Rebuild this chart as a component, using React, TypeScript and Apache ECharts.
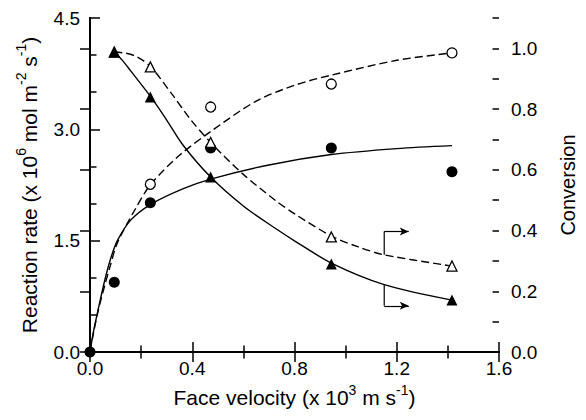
import React, { useEffect, useRef } from "react";
import * as echarts from "echarts";

// Measured points (face velocity, x 10^3 m/s)
const velocity = [0, 0.095, 0.236, 0.472, 0.944, 1.416];
const rateFilled = [0, 0.94, 2.01, 2.75, 2.75, 2.43];
const rateOpenX = [0.236, 0.472, 0.944, 1.416];
const rateOpen = [2.26, 3.3, 3.61, 4.03];
const convX = [0.095, 0.236, 0.472, 0.944, 1.416];
const convFilled = [0.988, 0.84, 0.576, 0.29, 0.171];
const convOpen = [0.988, 0.939, 0.69, 0.379, 0.283];

// Fitted curves
const rateSolidX = [0, 0.015, 0.035, 0.058, 0.08, 0.107, 0.16, 0.238, 0.365, 0.472, 0.7, 0.944, 1.2, 1.416];
const rateSolidY = [0, 0.3, 0.62, 0.97, 1.25, 1.5, 1.78, 1.99, 2.2, 2.33, 2.52, 2.66, 2.74, 2.78];
const rateDashX = [0, 0.015, 0.035, 0.058, 0.08, 0.107, 0.173, 0.238, 0.35, 0.472, 0.65, 0.806, 0.944, 1.2, 1.416];
const rateDashY = [0, 0.28, 0.6, 0.9, 1.17, 1.47, 1.9, 2.26, 2.65, 2.97, 3.38, 3.6, 3.73, 3.93, 4.03];
const convSolidX = [0.095, 0.125, 0.16, 0.238, 0.3, 0.365, 0.472, 0.601, 0.729, 0.806, 0.944, 1.151, 1.416];
const convSolidY = [0.988, 0.962, 0.925, 0.84, 0.764, 0.68, 0.576, 0.48, 0.405, 0.363, 0.293, 0.222, 0.171];
const convDashX = [0.095, 0.14, 0.184, 0.238, 0.32, 0.395, 0.472, 0.6, 0.729, 0.806, 0.944, 1.05, 1.151, 1.416];
const convDashY = [0.988, 0.984, 0.972, 0.939, 0.85, 0.764, 0.69, 0.585, 0.497, 0.452, 0.382, 0.346, 0.32, 0.283];

// Arrow annotations (pointing to the right axis)
const arrowUpper = [[1.151, 0.32], [1.151, 0.397], [1.247, 0.397]];
const arrowLower = [[1.151, 0.222], [1.151, 0.152], [1.247, 0.152]];

const FONT = "Liberation Sans";
const zip = (xs: number[], ys: number[]) => xs.map((x, i) => [x, ys[i]]);

export default function App() {
  const ref = useRef<HTMLDivElement>(null);
  useEffect(() => {
    const chart = echarts.init(ref.current!, undefined, { renderer: "svg" });
    const axisLine = { show: true, lineStyle: { color: "#000", width: 2 } };
    const tickStyle = { color: "#000", width: 1.5 };
    const label = { color: "#000", fontFamily: FONT, fontSize: 19 };
    const rich = {
      a: { fontFamily: FONT, fontSize: 21, color: "#000" },
      s: { fontFamily: FONT, fontSize: 14, color: "#000", padding: [0, 0, 16, 0] },
    };
    const lineSeries = (data: number[][], yIdx: number, dashed: boolean) => ({
      type: "line",
      data,
      xAxisIndex: 0,
      yAxisIndex: yIdx,
      smooth: 0.3,
      showSymbol: false,
      symbol: "none",
      silent: true,
      lineStyle: { color: "#000", width: 1.4, type: dashed ? [8, 4] : "solid" },
      z: 2,
    });
    const arrowSeries = (pts: number[][]) => ({
      type: "line",
      data: pts.slice(0, 2),
      xAxisIndex: 0,
      yAxisIndex: 1,
      showSymbol: false,
      symbol: "none",
      silent: true,
      lineStyle: { color: "#000", width: 1.2 },
      markLine: {
        silent: true,
        animation: false,
        symbol: ["none", "arrow"],
        symbolSize: [6, 9],
        label: { show: false },
        lineStyle: { color: "#000", width: 1.2, type: "solid" },
        data: [[{ coord: pts[1] }, { coord: pts[2] }]],
      },
      z: 2,
    });
    const scatter = (data: number[][], yIdx: number, symbol: string, open: boolean, size: number) => ({
      type: "scatter",
      data,
      xAxisIndex: 0,
      yAxisIndex: yIdx,
      symbol,
      symbolSize: size,
      silent: true,
      itemStyle: open
        ? { color: "#fff", borderColor: "#000", borderWidth: 1.3, opacity: 1 }
        : { color: "#000", borderColor: "#000", borderWidth: 0, opacity: 1 },
      z: 5,
    });
    chart.setOption({
      animation: false,
      grid: { left: 90, right: 79, top: 18, bottom: 68, containLabel: false },
      xAxis: [
        {
          type: "value",
          position: "bottom",
          min: 0,
          max: 1.6,
          interval: 0.4,
          axisLine,
          axisTick: { show: true, inside: true, length: 10, lineStyle: tickStyle },
          minorTick: { show: true, splitNumber: 2, length: 6.5, lineStyle: tickStyle },
          splitLine: { show: false },
          axisLabel: { ...label, margin: 7, formatter: (v: number) => v.toFixed(1) },
          name: "{a|Face velocity (x 10}{s|3}{a| m s}{s|-1}{a|)}",
          nameLocation: "middle",
          nameGap: 28,
          nameTextStyle: { rich },
        },
        {
          type: "value",
          position: "top",
          min: 0,
          max: 1.6,
          interval: 0.4,
          axisLine,
          axisTick: { show: true, inside: true, length: 10, lineStyle: tickStyle },
          minorTick: { show: true, splitNumber: 2, length: 6.5, lineStyle: tickStyle },
          splitLine: { show: false },
          axisLabel: { show: false },
        },
      ],
      yAxis: [
        {
          type: "value",
          position: "left",
          min: 0,
          max: 4.5,
          interval: 1.5,
          axisLine,
          axisTick: { show: true, inside: true, length: 10, lineStyle: tickStyle },
          minorTick: { show: true, splitNumber: 3, length: 6.5, lineStyle: tickStyle },
          splitLine: { show: false },
          axisLabel: { ...label, margin: 10, formatter: (v: number) => v.toFixed(1) },
          name: "{a|Reaction rate (x 10}{s|6}{a| mol m}{s|-2}{a| s}{s|-1}{a|)}",
          nameLocation: "middle",
          nameRotate: 90,
          nameGap: 46,
          nameTextStyle: { rich },
        },
        {
          type: "value",
          position: "right",
          min: 0,
          max: 1.1,
          interval: 0.2,
          axisLine,
          axisTick: { show: true, inside: true, length: 10, lineStyle: tickStyle },
          splitLine: { show: false },
          axisLabel: { ...label, margin: 12, showMaxLabel: false, formatter: (v: number) => v.toFixed(1) },
          name: "Conversion",
          nameLocation: "middle",
          nameRotate: 90,
          nameGap: 59,
          nameTextStyle: { fontFamily: FONT, fontSize: 20, color: "#000" },
        },
        {
          type: "value",
          position: "right",
          min: 0,
          max: 1.1,
          interval: 0.1,
          axisLine: { show: false },
          axisTick: { show: true, inside: true, length: 6.5, lineStyle: tickStyle },
          splitLine: { show: false },
          axisLabel: { show: false },
        },
      ],
      series: [
        lineSeries(zip(rateSolidX, rateSolidY), 0, false),
        lineSeries(zip(rateDashX, rateDashY), 0, true),
        lineSeries(zip(convSolidX, convSolidY), 1, false),
        lineSeries(zip(convDashX, convDashY), 1, true),
        arrowSeries(arrowUpper),
        arrowSeries(arrowLower),
        scatter(zip(velocity, rateFilled), 0, "circle", false, 11),
        scatter(zip(rateOpenX, rateOpen), 0, "circle", true, 10),
        scatter(zip(convX, convOpen), 1, "triangle", true, 10),
        scatter(zip(convX, convFilled), 1, "triangle", false, 11),
      ],
    });
    return () => chart.dispose();
  }, []);
  return <div ref={ref} style={{ width: 586, height: 420, position: "absolute", left: 0, top: 0 }} />;
}
